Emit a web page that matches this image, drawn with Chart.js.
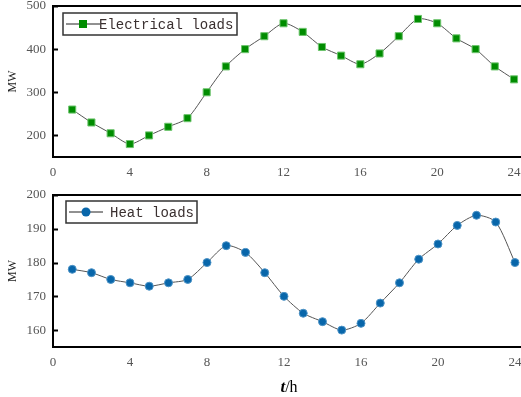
<!DOCTYPE html>
<html>
<head>
<meta charset="utf-8">
<script src="https://cdn.jsdelivr.net/npm/chart.js@4/dist/chart.umd.min.js"></script>
<style>
  html, body { margin: 0; padding: 0; background: #fff; overflow: hidden; width: 521px; height: 397px; }
  .panel { position: absolute; left: 0; width: 530px; }
  #topPanel { top: 0; height: 190px; }
  #bottomPanel { top: 190px; height: 207px; }
</style>
</head>
<body>
<div class="panel" id="topPanel"><canvas id="elecChart"></canvas></div>
<div class="panel" id="bottomPanel"><canvas id="heatChart"></canvas></div>
<script>
const hours = [1, 2, 3, 4, 5, 6, 7, 8, 9, 10, 11, 12, 13, 14, 15, 16, 17, 18, 19, 20, 21, 22, 23, 24];
const electricalLoads = [260, 230, 205, 180, 200, 220, 240, 300, 360, 400, 430, 460, 440, 405, 385, 365, 390, 430, 470, 460, 425, 400, 360, 330];
const heatLoads = [178, 177, 175, 174, 173, 174, 175, 180, 185, 183, 177, 170, 165, 162.5, 160, 162, 168, 174, 181, 185.5, 191, 194, 192, 180];
const hourTicks = [0, 4, 8, 12, 16, 20, 24];
const elecTicks = [200, 300, 400, 500];
const heatTicks = [160, 170, 180, 190, 200];

const tickFont = { family: "'Liberation Serif', serif", size: 13 };

// frame around the plot area plus inward ticks on the y axis
const framePlugin = {
  id: "frameBox",
  afterDatasetsDraw(chart) {
    const { ctx, chartArea: a, scales } = chart;
    ctx.save();
    ctx.strokeStyle = "#000";
    ctx.lineWidth = 2;
    ctx.strokeRect(a.left, a.top, a.right - a.left, a.bottom - a.top);
    scales.y.ticks.forEach(t => {
      const py = Math.round(scales.y.getPixelForValue(t.value)) + 0.5;
      ctx.beginPath();
      ctx.moveTo(a.left, py);
      ctx.lineTo(a.left + 5, py);
      ctx.stroke();
    });
    ctx.restore();
  }
};

// boxed legend with a line + marker sample
const legendPlugin = {
  id: "legendBox",
  afterDraw(chart, args, opts) {
    const ds = chart.data.datasets[0];
    const ctx = chart.ctx;
    const a = chart.chartArea;
    const x = a.left + opts.dx, y = a.top + opts.dy;
    ctx.save();
    ctx.fillStyle = "#fff";
    ctx.fillRect(x, y, opts.w, opts.h);
    ctx.strokeStyle = "#333";
    ctx.lineWidth = 1.5;
    ctx.strokeRect(x, y, opts.w, opts.h);
    const cy = y + opts.h / 2;
    ctx.strokeStyle = "#222";
    ctx.lineWidth = 1;
    ctx.beginPath();
    ctx.moveTo(x + 3, cy);
    ctx.lineTo(x + 37, cy);
    ctx.stroke();
    ctx.fillStyle = ds.pointBackgroundColor;
    ctx.beginPath();
    if (ds.pointStyle === "rect") {
      ctx.rect(x + 16, cy - 4, 8, 8);
    } else {
      ctx.arc(x + 20, cy, 4.5, 0, Math.PI * 2);
    }
    ctx.fill();
    ctx.fillStyle = "#3a3030";
    ctx.font = "14px 'Liberation Mono', monospace";
    ctx.textBaseline = "middle";
    ctx.fillText(ds.label, x + opts.textDx, cy + 1);
    ctx.restore();
  }
};

// "t/h" axis caption with italic bold t
const hourTitlePlugin = {
  id: "hourTitle",
  afterDraw(chart, args, opts) {
    if (!opts.show) return;
    const ctx = chart.ctx;
    const a = chart.chartArea;
    ctx.save();
    ctx.fillStyle = "#000";
    ctx.textBaseline = "alphabetic";
    const fontT = "italic bold 17px 'Liberation Serif', serif";
    const fontH = "16px 'Liberation Serif', serif";
    ctx.font = fontT;
    const wT = ctx.measureText("t").width;
    ctx.font = fontH;
    const wH = ctx.measureText("/h").width;
    const cx = (a.left + a.right) / 2;
    const x0 = cx - (wT + wH) / 2;
    const yBase = a.bottom + 45;
    ctx.font = fontT;
    ctx.fillText("t", x0, yBase);
    ctx.font = fontH;
    ctx.fillText("/h", x0 + wT, yBase);
    ctx.restore();
  }
};

function makeChart(canvasId, cfg) {
  return new Chart(document.getElementById(canvasId), {
    type: "line",
    data: {
      datasets: [{
        label: cfg.label,
        data: hours.map((h, i) => ({ x: h, y: cfg.values[i] })),
        borderColor: "#555",
        borderWidth: 1,
        tension: 0.25,
        pointStyle: cfg.pointStyle,
        pointRadius: cfg.pointRadius,
        pointBackgroundColor: cfg.color,
        pointBorderColor: cfg.edge,
        pointBorderWidth: 1
      }]
    },
    options: {
      responsive: true,
      maintainAspectRatio: false,
      animation: false,
      layout: { padding: { top: cfg.padTop, right: 5, left: 0, bottom: 0 } },
      scales: {
        x: {
          type: "linear",
          min: 0,
          max: 24.52,
          afterBuildTicks: s => { s.ticks = hourTicks.map(v => ({ value: v })); },
          afterFit: s => { s.height = cfg.xHeight; s.paddingLeft = 0; s.paddingRight = 0; },
          grid: { display: false, drawTicks: false },
          border: { display: false },
          ticks: { font: tickFont, color: "#555", padding: 8, maxRotation: 0 }
        },
        y: {
          min: cfg.yMin,
          max: cfg.yMax,
          afterBuildTicks: s => { s.ticks = cfg.yTicks.map(v => ({ value: v })); },
          afterFit: s => { s.width = 53; s.paddingTop = 0; s.paddingBottom = 0; },
          grid: { display: false, drawTicks: false },
          border: { display: false },
          ticks: { font: tickFont, color: "#555", padding: 7 },
          title: {
            display: true,
            text: "MW",
            color: "#222",
            font: { family: "'Liberation Serif', serif", size: 12 },
            padding: { top: 6, bottom: 0 }
          }
        }
      },
      plugins: {
        legend: { display: false },
        tooltip: { enabled: false },
        legendBox: cfg.legend,
        hourTitle: { show: cfg.showTitle }
      }
    },
    plugins: [framePlugin, legendPlugin, hourTitlePlugin]
  });
}

makeChart("elecChart", {
  label: "Electrical loads",
  values: electricalLoads,
  pointStyle: "rect",
  pointRadius: 5,
  color: "#008c00",
  edge: "#6cc46c",
  yMin: 150,
  yMax: 500,
  yTicks: elecTicks,
  padTop: 6,
  xHeight: 33,
  legend: { dx: 10, dy: 7, w: 174, h: 22, textDx: 36 },
  showTitle: false
});

makeChart("heatChart", {
  label: "Heat loads",
  values: heatLoads,
  pointStyle: "circle",
  pointRadius: 4,
  color: "#0866aa",
  edge: "#4d93c6",
  yMin: 155,
  yMax: 200,
  yTicks: heatTicks,
  padTop: 5,
  xHeight: 50,
  legend: { dx: 13, dy: 6, w: 131, h: 22, textDx: 44 },
  showTitle: true
});
</script>
</body>
</html>
